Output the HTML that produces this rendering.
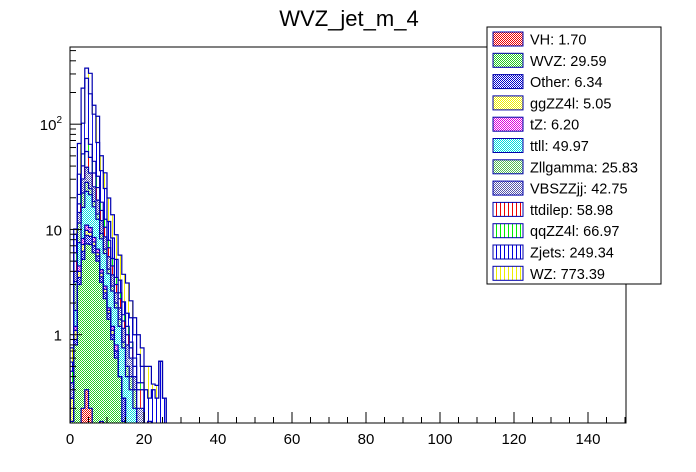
<!DOCTYPE html>
<html><head><meta charset="utf-8"><style>
body{margin:0;background:#fff;}
svg{display:block;font-family:"Liberation Sans",Arial,sans-serif;}
</style></head><body>
<svg id="c" width="696" height="472" viewBox="0 0 696 472">
<defs>
<pattern id="p-VH" width="2" height="2" patternUnits="userSpaceOnUse"><rect width="2" height="2" fill="#fff"/><rect width="1" height="1" fill="#e00"/><rect x="1" y="1" width="1" height="1" fill="#e00"/></pattern>
<pattern id="p-WVZ" width="2" height="2" patternUnits="userSpaceOnUse"><rect width="2" height="2" fill="#fff"/><rect width="1" height="1" fill="#2c2"/><rect x="1" y="1" width="1" height="1" fill="#2c2"/></pattern>
<pattern id="p-Other" width="2" height="2" patternUnits="userSpaceOnUse"><rect width="2" height="2" fill="#fff"/><rect width="1" height="1" fill="#00c"/><rect x="1" y="1" width="1" height="1" fill="#00c"/></pattern>
<pattern id="p-ggZZ4l" width="2" height="2" patternUnits="userSpaceOnUse"><rect width="2" height="2" fill="#fff"/><rect width="1" height="1" fill="#ee0"/><rect x="1" y="1" width="1" height="1" fill="#ee0"/></pattern>
<pattern id="p-tZ" width="2" height="2" patternUnits="userSpaceOnUse"><rect width="2" height="2" fill="#fff"/><rect width="1" height="1" fill="#d0d"/><rect x="1" y="1" width="1" height="1" fill="#d0d"/></pattern>
<pattern id="p-ttll" width="2" height="2" patternUnits="userSpaceOnUse"><rect width="2" height="2" fill="#fff"/><rect width="1" height="1" fill="#0dd"/><rect x="1" y="1" width="1" height="1" fill="#0dd"/></pattern>
<pattern id="p-Zllgamma" width="2" height="2" patternUnits="userSpaceOnUse"><rect width="2" height="2" fill="#fff"/><rect width="1" height="1" fill="#5b5"/><rect x="1" y="1" width="1" height="1" fill="#5b5"/></pattern>
<pattern id="p-VBSZZjj" width="2" height="2" patternUnits="userSpaceOnUse"><rect width="2" height="2" fill="#fff"/><rect width="1" height="1" fill="#55a"/><rect x="1" y="1" width="1" height="1" fill="#55a"/></pattern>
<pattern id="p-ttdilep" width="4" height="4" patternUnits="userSpaceOnUse"><rect width="4" height="4" fill="#fff"/><rect width="1" height="4" fill="#e00"/></pattern>
<pattern id="p-qqZZ4l" width="4" height="4" patternUnits="userSpaceOnUse"><rect width="4" height="4" fill="#fff"/><rect width="1" height="4" fill="#0e0"/></pattern>
<pattern id="p-Zjets" width="4" height="4" patternUnits="userSpaceOnUse"><rect width="4" height="4" fill="#fff"/><rect width="1" height="4" fill="#00d"/></pattern>
<pattern id="p-WZ" width="4" height="4" patternUnits="userSpaceOnUse"><rect width="4" height="4" fill="#fff"/><rect width="1" height="4" fill="#ee0"/></pattern>
<clipPath id="clip"><rect x="70" y="47" width="556" height="376"/></clipPath>
</defs>
<text x="349" y="26" font-size="22" text-anchor="middle">WVZ_jet_m_4</text>
<g id="bars" clip-path="url(#clip)"></g>
<rect x="70" y="47" width="556" height="376" fill="none" stroke="#000" stroke-width="1"/>
<g id="axes"></g>
<g id="legend"></g>
</svg>
<script>
const bins = [0,1,2,3,4,5,6,7,8,9,10,11,12,13,14,15,16,17,18,19,20,21,22,23,24,25];
const seriesNames = ["VH","WVZ","Other","ggZZ4l","tZ","ttll","Zllgamma","VBSZZjj","ttdilep","qqZZ4l","Zjets","WZ"];
const legendLabels = ["VH: 1.70","WVZ: 29.59","Other: 6.34","ggZZ4l: 5.05","tZ: 6.20","ttll: 49.97","Zllgamma: 25.83","VBSZZjj: 42.75","ttdilep: 58.98","qqZZ4l: 66.97","Zjets: 249.34","WZ: 773.39"];
const VH       = [0,0,0,0.2,0.3,0.2,0,0,0.15,0,0,0,0,0,0,0,0,0,0,0,0,0,0,0,0,0];
const WVZ      = [0.15,0.8,3,5,7,7,6,5,3,2.2,1.4,0.9,0.6,0.4,0.15,0,0,0,0,0,0,0,0,0,0,0];
const Other    = [0,0.1,0.5,1,1.5,1.4,1,0.6,0.4,0.3,0.2,0.1,0.1,0,0.1,0,0,0,0,0,0,0,0,0,0,0];
const ggZZ4l   = [0.1,0.2,0.5,1,1,0.8,0.6,0.4,0.3,0.2,0.1,0.1,0,0,0,0,0,0,0,0,0,0,0,0,0,0];
const tZ       = [0,0.1,0.5,1,1.2,1,0.8,0.5,0.3,0.2,0.1,0.1,0.1,0,0,0,0,0,0,0,0,0,0,0,0,0];
const ttll     = [0,0.5,3,8,12,11,8,6,4,3,2,1.4,1,0.8,0.5,0.4,0.3,0.2,0.1,0.1,0,0,0,0,0,0];
const Zllgamma = [0,1.5,4,6,5,3,2,1.5,1,0.6,0.4,0.3,0.2,0.2,0.1,0.1,0.1,0.1,0,0,0,0,0,0,0,0];
const VBSZZjj  = [0.1,0.8,3,8,11,10,7,5,3,2,1.3,0.8,0.5,0.4,0.3,0.3,0.2,0.1,0.1,0.1,0.1,0.1,0.1,0,0,0];
const ttdilep  = [0,1,3,10,16,14,9,6,3,2,1.2,0.8,0.5,0.4,0.2,0.2,0.15,0.1,0.1,0.1,0,0.05,0,0,0,0];
const qqZZ4l   = [0.1,1,4,12,18,16,10,7,3,2,1.2,0.8,0.5,0.3,0.2,0.2,0.1,0.1,0.05,0.05,0,0,0,0,0,0];
const Zjets    = [0.1,3,12,50,200,130,80,35,18,12,4,3,1.7,0.8,0.5,0.4,0.6,0.4,0.3,0.15,0.2,0.1,0.2,0.25,0.56,0.25];
const WZ       = [0.2,1.1,32,118,68,110,27,52,14,10,8,5.5,3.7,2.4,1.7,1.5,0.65,0.45,0.35,0.25,0.2,0.25,0.04,0.08,0,0];
const xTicks = [0,20,40,60,80,100,120,140];
const yTicks = [1,10,100];
const yTickLabels = ["1","10","10²"];

const seriesData = [VH,WVZ,Other,ggZZ4l,tZ,ttll,Zllgamma,VBSZZjj,ttdilep,qqZZ4l,Zjets,WZ];
const NS="http://www.w3.org/2000/svg";
const X0=70, XS=3.7, YMIN=0.145, YMAX=541, PT=47, PB=423;
function xPos(v){return X0+v*XS;}
function yPos(v){const a=Math.log10(YMIN),b=Math.log10(YMAX);return PB-(Math.log10(v)-a)/(b-a)*(PB-PT);}
function yc(v){return v>YMIN?yPos(v):PB+3;}
function mk(t,at,parent){const e=document.createElementNS(NS,t);for(const k in at)e.setAttribute(k,at[k]);parent.appendChild(e);return e;}
const gB=document.getElementById('bars');
const cum=bins.map(()=>0);
const outlines=[];
seriesData.forEach((arr,si)=>{
  const name=seriesNames[si];
  bins.forEach((b,i)=>{
    const lo=cum[i], hi=cum[i]+arr[i];
    cum[i]=hi;
    if(arr[i]<=0||hi<=YMIN) return;
    const yt=yPos(hi), yb=yc(lo);
    const r=mk('rect',{x:xPos(b),y:yt,width:XS,height:Math.max(0,yb-yt),fill:'url(#p-'+name+')'},gB);
    
    
  });
  // step outline of this series' cumulative top
  let d='M'+xPos(bins[0])+','+(PB+3);
  bins.forEach((b,i)=>{const y=yc(cum[i]);d+=' L'+xPos(b)+','+y+' L'+xPos(b+1)+','+y;});
  d+=' L'+xPos(bins[bins.length-1]+1)+','+(PB+3);
  outlines.push(d);
});
outlines.forEach((d,si)=>{
  const p=mk('path',{d:d,fill:'none',stroke:'#0000b0','stroke-width':1.2},gB);
  
  
});
const gA=document.getElementById('axes');
for(let v=0;v<=150;v+=5){
  const major=v%20===0;
  const t=mk('line',{x1:xPos(v),x2:xPos(v),y1:PB,y2:PB-(major?11:6),stroke:'#000'},gA);
  
  
}
xTicks.forEach(v=>{
  const t=mk('text',{x:xPos(v),y:PB+21,'font-size':15,'text-anchor':'middle'},gA);
  t.textContent=v;
  
  
});
for(let e=-1;e<=2;e++){for(let m=1;m<10;m++){
  const v=m*Math.pow(10,e); if(v<YMIN||v>YMAX) continue;
  const t=mk('line',{x1:X0,x2:X0+(m===1?12:6),y1:yPos(v),y2:yPos(v),stroke:'#000'},gA);
  
  
}}
yTicks.forEach((v,i)=>{
  const t=mk('text',{x:62,y:yPos(v)+6,'font-size':15,'text-anchor':'end'},gA);
  if(i===2){t.textContent="10";const s=mk('tspan',{dy:-7,'font-size':10},t);s.textContent="2";}
  else t.textContent=yTickLabels[i];
  
  
});
const gL=document.getElementById('legend');
const lb=mk('rect',{x:487,y:27,width:174,height:257,fill:'#fff',stroke:'#000'},gL);


seriesNames.forEach((n,i)=>{
  const y=32+i*21.3;
  const s=mk('rect',{x:493,y:y,width:30,height:14,fill:'url(#p-'+n+')',stroke:'#00a'},gL);
  
  
  const t=mk('text',{x:530,y:y+12.5,'font-size':14.5},gL);
  t.textContent=legendLabels[i];
  
  
});
</script>
</body></html>
